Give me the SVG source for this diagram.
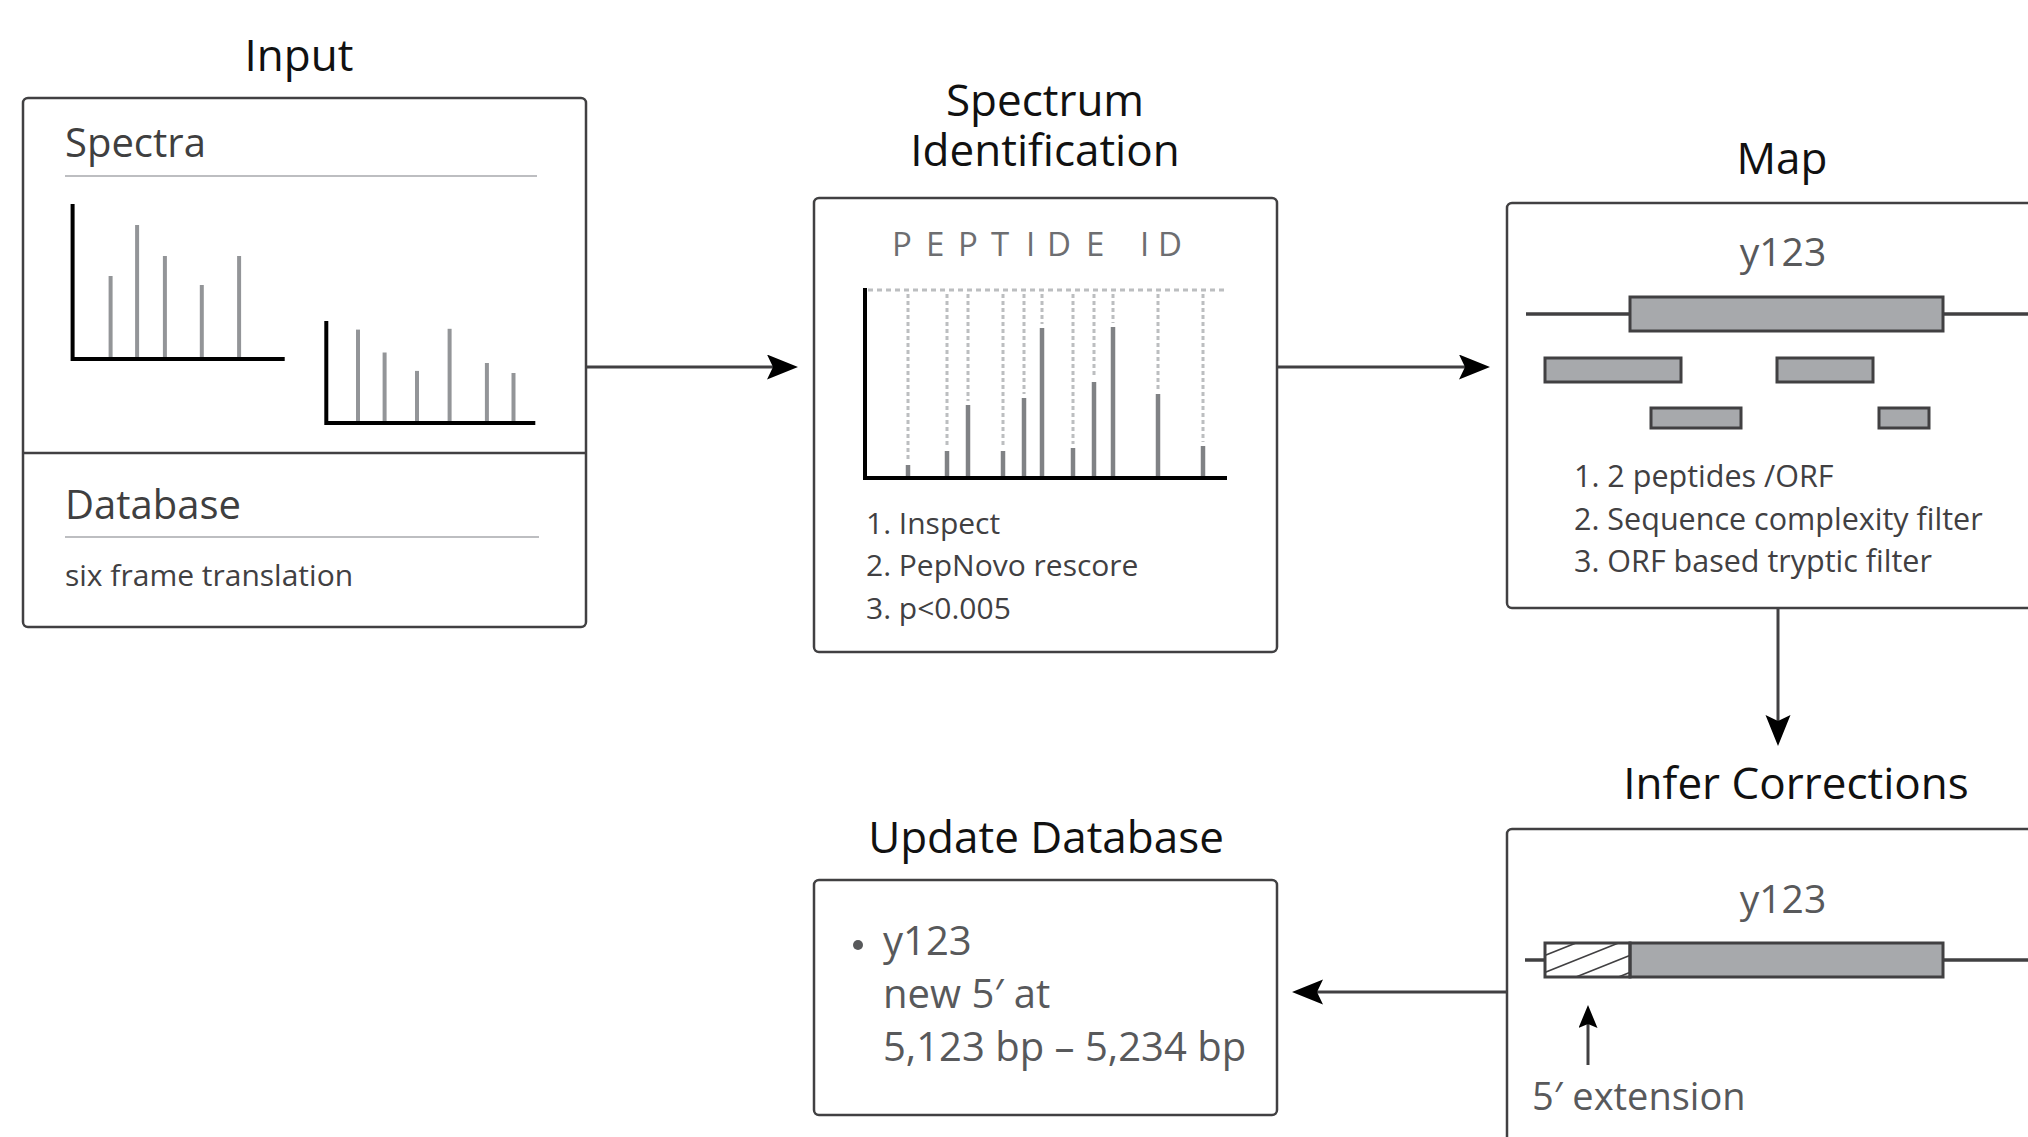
<svg xmlns="http://www.w3.org/2000/svg" width="2028" height="1137" viewBox="0 0 2028 1137">
  <style>
    text { font-family: "Open Sans", "Noto Sans", "Liberation Sans", sans-serif; }
    .title { font-size: 44px; fill: #111111; text-anchor: middle; }
    .head { font-size: 40px; fill: #3f3f40; }
    .body { font-size: 30px; fill: #414042; }
    .body2 { font-size: 30.5px; fill: #414042; }
    .gene-label { font-size: 39px; fill: #58595b; text-anchor: middle; }
    .upd { font-size: 40px; fill: #58595b; }
    .box { fill: #ffffff; stroke: #414042; stroke-width: 2.5; }
    .rule { stroke: #a7a9ac; stroke-width: 1.6; }
    .axis { fill: none; stroke: #000000; stroke-width: 4; }
    .peak { stroke: #939598; stroke-width: 4; }
    .peak2 { stroke: #808285; stroke-width: 4.5; }
    .dash { stroke: #bcbec0; stroke-width: 3; stroke-dasharray: 4 3; fill: none; }
    .dashh { stroke: #bcbec0; stroke-width: 3; stroke-dasharray: 5 4; fill: none; }
    .gene { fill: #a7a9ac; stroke: #414042; stroke-width: 3; }
    .geneline { stroke: #414042; stroke-width: 3.5; }
    .conn { stroke: #414042; stroke-width: 3; fill: none; }
    .hatch { stroke: #414042; stroke-width: 1.6; }
  </style>
  <defs>
    <marker id="arrow" markerUnits="userSpaceOnUse" markerWidth="32" markerHeight="26" refX="23" refY="12.5" orient="auto">
      <path d="M31,12.5 L0,0 L6,12.5 L0,25 Z" fill="#000000"/>
    </marker>
    <marker id="arrowSmall" markerUnits="userSpaceOnUse" markerWidth="24" markerHeight="20" refX="16" refY="9.5" orient="auto">
      <path d="M23,9.5 L0,0 L4,9.5 L0,19 Z" fill="#000000"/>
    </marker>
    <clipPath id="hatchClip">
      <rect x="1545" y="943" width="85" height="34"/>
    </clipPath>
  </defs>

  <rect width="2028" height="1137" fill="#ffffff"/>

  <!-- Input node -->
  <g id="input">
    <text class="title" x="299" y="71">Input</text>
    <rect class="box" x="23" y="98" width="563" height="529" rx="5"/>
    <text class="head" x="65" y="157">Spectra</text>
    <line class="rule" x1="65" y1="176" x2="537" y2="176"/>
    <g id="spectrum1">
      <line class="peak" x1="110.6" y1="276" x2="110.6" y2="357"/>
      <line class="peak" x1="137.1" y1="225" x2="137.1" y2="357"/>
      <line class="peak" x1="164.9" y1="256" x2="164.9" y2="357"/>
      <line class="peak" x1="201.8" y1="285" x2="201.8" y2="357"/>
      <line class="peak" x1="239.1" y1="256" x2="239.1" y2="357"/>
      <polyline class="axis" points="72.6,204 72.6,359 284.7,359"/>
    </g>
    <g id="spectrum2">
      <line class="peak" x1="358" y1="329.6" x2="358" y2="421"/>
      <line class="peak" x1="384.6" y1="352.5" x2="384.6" y2="421"/>
      <line class="peak" x1="417" y1="370.9" x2="417" y2="421"/>
      <line class="peak" x1="449.6" y1="328.8" x2="449.6" y2="421"/>
      <line class="peak" x1="486.9" y1="363" x2="486.9" y2="421"/>
      <line class="peak" x1="513.5" y1="373" x2="513.5" y2="421"/>
      <polyline class="axis" points="326.3,321 326.3,423 535.3,423"/>
    </g>
    <line x1="23" y1="453" x2="586" y2="453" stroke="#414042" stroke-width="2.5"/>
    <text class="head" x="65" y="519">Database</text>
    <line class="rule" x1="65" y1="537" x2="539" y2="537"/>
    <text class="body" x="65" y="586">six frame translation</text>
  </g>

  <!-- Spectrum Identification node -->
  <g id="spectrum-identification">
    <text class="title" x="1045" y="116">Spectrum</text>
    <text class="title" x="1045" y="166">Identification</text>
    <rect class="box" x="814" y="198" width="463" height="454" rx="5"/>
    <text x="892 926 958 991 1026 1047 1086 1110 1140 1158" y="256" font-size="33" fill="#6d6e71">PEPTIDE ID</text>
    <line class="dashh" x1="868" y1="290" x2="1227" y2="290"/>
    <g class="dashes">
      <line class="dash" x1="908" y1="294" x2="908" y2="461"/>
      <line class="dash" x1="947" y1="294" x2="947" y2="447"/>
      <line class="dash" x1="968" y1="294" x2="968" y2="401"/>
      <line class="dash" x1="1003" y1="294" x2="1003" y2="447"/>
      <line class="dash" x1="1024" y1="294" x2="1024" y2="394"/>
      <line class="dash" x1="1042" y1="294" x2="1042" y2="324"/>
      <line class="dash" x1="1073" y1="294" x2="1073" y2="444"/>
      <line class="dash" x1="1094" y1="294" x2="1094" y2="378"/>
      <line class="dash" x1="1113" y1="294" x2="1113" y2="323"/>
      <line class="dash" x1="1158" y1="294" x2="1158" y2="390"/>
      <line class="dash" x1="1203" y1="294" x2="1203" y2="442"/>
    </g>
    <g class="peaks">
      <line class="peak2" x1="908" y1="465" x2="908" y2="476"/>
      <line class="peak2" x1="947" y1="451" x2="947" y2="476"/>
      <line class="peak2" x1="968" y1="405" x2="968" y2="476"/>
      <line class="peak2" x1="1003" y1="451" x2="1003" y2="476"/>
      <line class="peak2" x1="1024" y1="398" x2="1024" y2="476"/>
      <line class="peak2" x1="1042" y1="328" x2="1042" y2="476"/>
      <line class="peak2" x1="1073" y1="448" x2="1073" y2="476"/>
      <line class="peak2" x1="1094" y1="382" x2="1094" y2="476"/>
      <line class="peak2" x1="1113" y1="327" x2="1113" y2="476"/>
      <line class="peak2" x1="1158" y1="394" x2="1158" y2="476"/>
      <line class="peak2" x1="1203" y1="446" x2="1203" y2="476"/>
    </g>
    <polyline class="axis" points="865,288 865,478 1227,478"/>
    <text class="body" x="866" y="534">1. Inspect</text>
    <text class="body" x="866" y="576">2. PepNovo rescore</text>
    <text class="body" x="866" y="619">3. p&lt;0.005</text>
  </g>

  <!-- Map node -->
  <g id="map">
    <text class="title" x="1782" y="174">Map</text>
    <rect class="box" x="1507" y="203" width="540" height="405" rx="5"/>
    <text class="gene-label" x="1783" y="266">y123</text>
    <line class="geneline" x1="1526" y1="314" x2="2030" y2="314"/>
    <rect class="gene" x="1630" y="297" width="313" height="34"/>
    <rect class="gene" x="1545" y="358" width="136" height="24"/>
    <rect class="gene" x="1777" y="358" width="96" height="24"/>
    <rect class="gene" x="1651" y="408" width="90" height="20"/>
    <rect class="gene" x="1879" y="408" width="50" height="20"/>
    <text class="body2" x="1574" y="487">1. 2 peptides /ORF</text>
    <text class="body2" x="1574" y="530">2. Sequence complexity filter</text>
    <text class="body2" x="1574" y="572">3. ORF based tryptic filter</text>
  </g>

  <!-- Infer Corrections node -->
  <g id="infer-corrections">
    <text class="title" x="1796" y="799">Infer Corrections</text>
    <rect class="box" x="1507" y="829" width="540" height="330" rx="5"/>
    <text class="gene-label" x="1783" y="913">y123</text>
    <line class="geneline" x1="1525" y1="960" x2="2030" y2="960"/>
    <rect x="1545" y="943" width="85" height="34" fill="#ffffff"/>
    <g clip-path="url(#hatchClip)">
      <line class="hatch" x1="1540" y1="957.4" x2="1640" y2="917.4"/>
      <line class="hatch" x1="1540" y1="974.4" x2="1640" y2="934.4"/>
      <line class="hatch" x1="1540" y1="991.4" x2="1640" y2="951.4"/>
      <line class="hatch" x1="1540" y1="1008.4" x2="1640" y2="968.4"/>
    </g>
    <rect class="gene" x="1630" y="943" width="313" height="34"/>
    <rect x="1545" y="943" width="85" height="34" fill="none" stroke="#414042" stroke-width="3"/>
    <line class="conn" x1="1588" y1="1065" x2="1588" y2="1012" marker-end="url(#arrowSmall)"/>
    <text x="1532" y="1110" font-size="38" fill="#58595b">5′ extension</text>
  </g>

  <!-- Update Database node -->
  <g id="update-database">
    <text class="title" x="1046" y="853">Update Database</text>
    <rect class="box" x="814" y="880" width="463" height="235" rx="5"/>
    <circle cx="858" cy="945" r="5" fill="#58595b"/>
    <text class="upd" x="883" y="955">y123</text>
    <text class="upd" x="883" y="1008">new 5′ at</text>
    <text class="upd" x="883" y="1061">5,123 bp – 5,234 bp</text>
  </g>

  <!-- Connectors -->
  <g id="connectors">
    <line class="conn" x1="586" y1="367" x2="790" y2="367" marker-end="url(#arrow)"/>
    <line class="conn" x1="1277" y1="367" x2="1482" y2="367" marker-end="url(#arrow)"/>
    <line class="conn" x1="1778" y1="608" x2="1778" y2="738" marker-end="url(#arrow)"/>
    <line class="conn" x1="1507" y1="992" x2="1300" y2="992" marker-end="url(#arrow)"/>
  </g>
</svg>
